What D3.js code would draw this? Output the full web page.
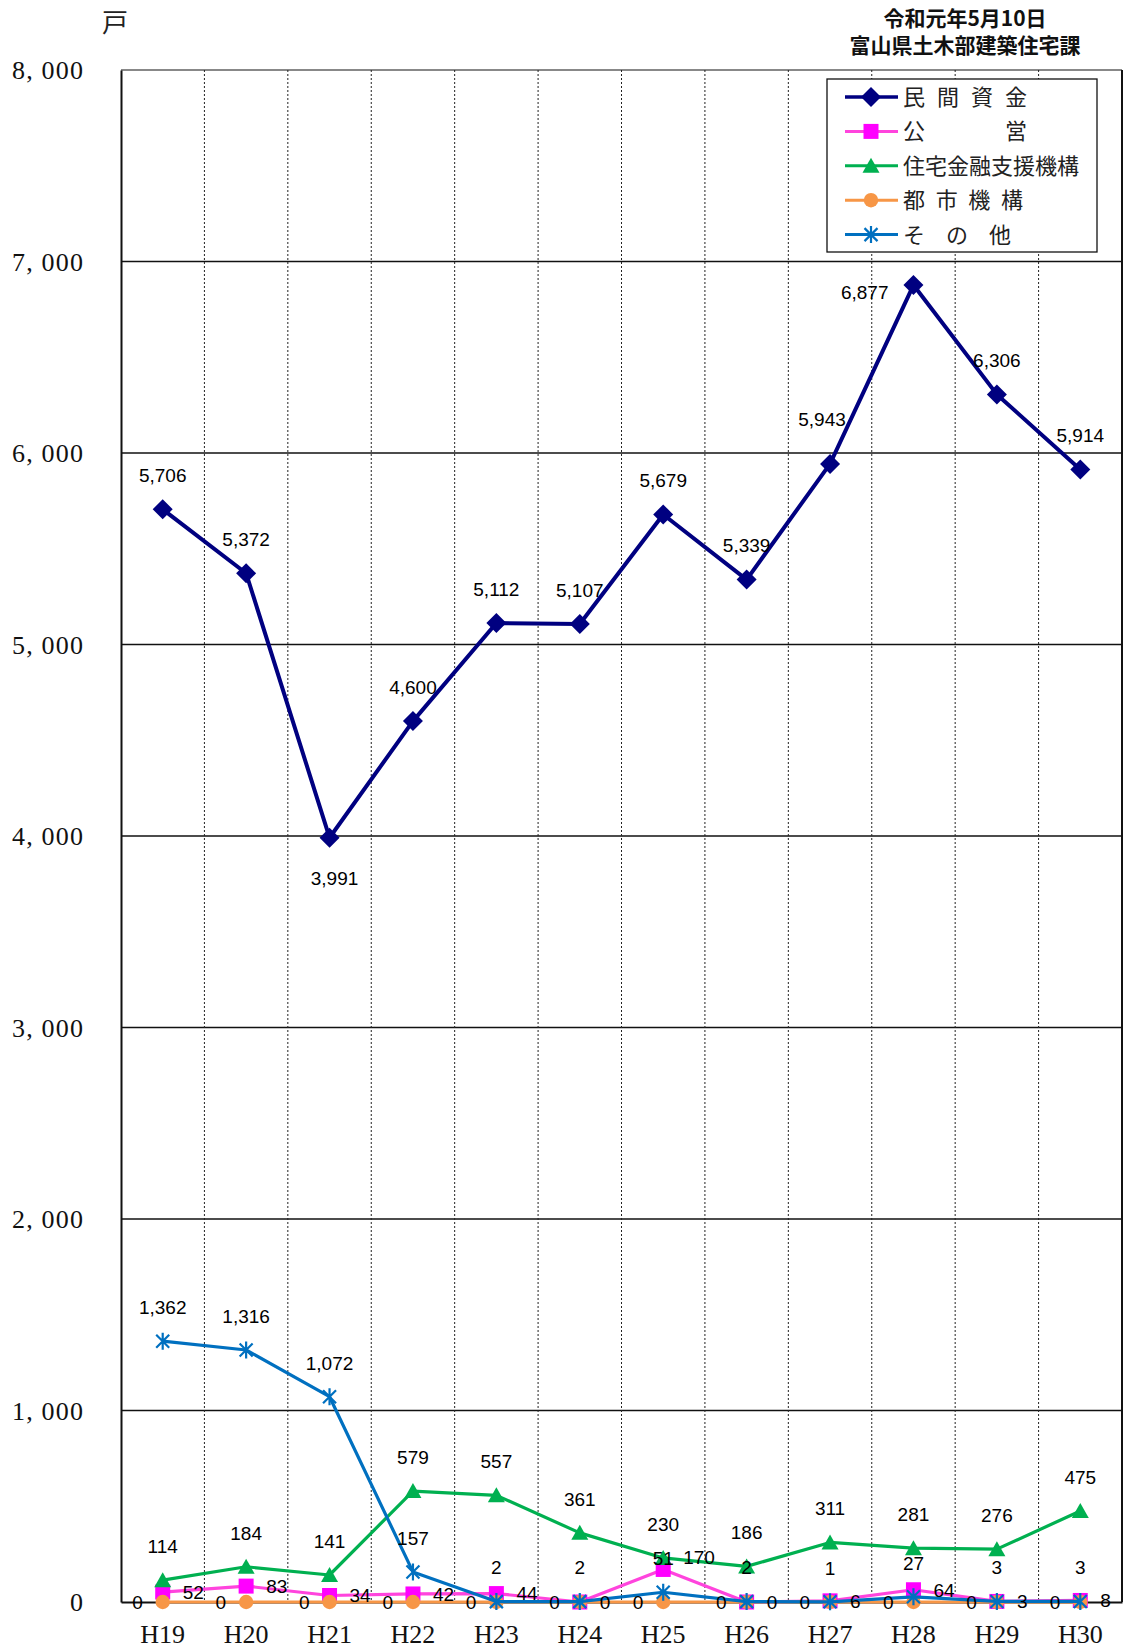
<!DOCTYPE html>
<html>
<head>
<meta charset="utf-8">
<script src="https://cdn.jsdelivr.net/npm/d3@7"></script>
<style>
html,body{margin:0;padding:0;background:#fff;}
svg{display:block;}
</style>
</head>
<body>
<svg id="chart" width="1123" height="1650"></svg>
<script>
// ---- data ----
const categories = ["H19","H20","H21","H22","H23","H24","H25","H26","H27","H28","H29","H30"];
const minkan  = [5706,5372,3991,4600,5112,5107,5679,5339,5943,6877,6306,5914];
const koei    = [52,83,34,42,44,0,170,0,6,64,3,8];
const jukin   = [114,184,141,579,557,361,230,186,311,281,276,475];
const toshi   = [0,0,0,0,0,0,0,0,0,0,0,0];
const sonota  = [1362,1316,1072,157,2,2,51,2,1,27,3,3];
const yTicks  = [0,1000,2000,3000,4000,5000,6000,7000,8000];
const yTickLabels = ["0","1, 000","2, 000","3, 000","4, 000","5, 000","6, 000","7, 000","8, 000"];
const seriesNames = ["民間資金","公営","住宅金融支援機構","都市機構","その他"];

// ---- layout ----
const svg = d3.select("#chart");
const L = 121, R = 1122, T = 70, B = 1602;
const x = d3.scaleBand().domain(categories).range([L, R]).padding(0);
const cx = c => x(c) + x.bandwidth()/2;
const y = d3.scaleLinear().domain([0, 8000]).range([B, T]);

// horizontal gridlines
svg.append("g").selectAll("line").data(yTicks.filter(v => v > 0 && v < 8000)).join("line")
  .attr("x1", L).attr("x2", R).attr("y1", d => y(d)).attr("y2", d => y(d))
  .attr("stroke", "#111").attr("stroke-width", 1.3);
// top line
svg.append("line").attr("x1", L).attr("x2", R).attr("y1", y(8000)).attr("y2", y(8000))
  .attr("stroke", "#888").attr("stroke-width", 2.2);
// vertical dotted lines
svg.append("g").selectAll("line").data(categories.slice(1)).join("line")
  .attr("x1", d => x(d)).attr("x2", d => x(d)).attr("y1", T).attr("y2", B)
  .attr("stroke", "#222").attr("stroke-width", 1).attr("stroke-dasharray", "2,2");
// right border
svg.append("line").attr("x1", R).attr("x2", R).attr("y1", T).attr("y2", B)
  .attr("stroke", "#111").attr("stroke-width", 2);

// axes
const yAxis = d3.axisLeft(y).tickValues(yTicks).tickSize(0).tickFormat((d,i) => yTickLabels[i]);
const gy = svg.append("g").attr("transform", `translate(${L},0)`).call(yAxis);
gy.select(".domain").attr("stroke", "#111").attr("stroke-width", 2);
gy.selectAll("text").attr("x", -38).attr("dy", "0.34em")
  .attr("font-family", "'Liberation Serif','DejaVu Serif',serif").attr("font-size", 26).attr("fill", "#111")
  .each(function(d){ if (d > 0) d3.select(this).attr("textLength", 71).attr("lengthAdjust", "spacing"); });

const xAxis = d3.axisBottom(x).tickSize(0);
const gx = svg.append("g").attr("transform", `translate(0,${B})`).call(xAxis);
gx.select(".domain").attr("stroke", "#111").attr("stroke-width", 2);
gx.selectAll("text").attr("y", 41).attr("dy", 0)
  .attr("font-family", "'Liberation Serif','DejaVu Serif',serif").attr("font-size", 26).attr("fill", "#111");

// ---- series ----
const symDiamond = "M0,-10L10,0L0,10L-10,0Z";
const symSquare = "M-7.5,-7.5H7.5V7.5H-7.5Z";
const symTriangle = "M0,-8L8.5,7L-8.5,7Z";
const symStar = "M-6.5,-6.5L6.5,6.5M-6.5,6.5L6.5,-6.5M0,-8.5L0,8.5";

const series = [
  {name: seriesNames[0], values: minkan, line: "#000080", fill: "#000080", lw: 4, sym: symDiamond, pos: "above"},
  {name: seriesNames[1], values: koei,   line: "#FF44DD", fill: "#FF00FF", lw: 3.2, sym: symSquare, pos: "right"},
  {name: seriesNames[2], values: jukin,  line: "#00B050", fill: "#00B050", lw: 3.2, sym: symTriangle, pos: "above"},
  {name: seriesNames[3], values: toshi,  line: "#F79646", fill: "#F79646", lw: 3.2, sym: "circle", pos: "left"},
  {name: seriesNames[4], values: sonota, line: "#0070C0", fill: "none", lw: 3.2, sym: symStar, pos: "above", stroke: "#0070C0"}
];

const lineGen = d3.line().x((d,i) => cx(categories[i])).y(d => y(d));

function drawMarker(g, s, px, py) {
  if (s.sym === "circle") {
    g.append("circle").attr("cx", px).attr("cy", py).attr("r", 7.2).attr("fill", s.fill);
  } else if (s.stroke) {
    g.append("path").attr("d", s.sym).attr("transform", `translate(${px},${py})`)
      .attr("fill", "none").attr("stroke", s.stroke).attr("stroke-width", 2.2);
  } else {
    g.append("path").attr("d", s.sym).attr("transform", `translate(${px},${py})`).attr("fill", s.fill);
  }
}

const fmt = d3.format(",");
const labelFont = "'Liberation Sans',Arial,sans-serif";

series.forEach(s => {
  const g = svg.append("g");
  g.append("path").datum(s.values).attr("d", lineGen)
    .attr("fill", "none").attr("stroke", s.line).attr("stroke-width", s.lw).attr("stroke-linejoin", "round");
  s.values.forEach((v, i) => drawMarker(g, s, cx(categories[i]), y(v)));
});

// labels on top
series.forEach((s, si) => {
  const g = svg.append("g").attr("font-family", labelFont).attr("font-size", 19).attr("fill", "#000");
  s.values.forEach((v, i) => {
    const px = cx(categories[i]), py = y(v);
    let tx = px, ty = py - 34, anchor = "middle";
    if (s.pos === "right") { tx = px + 20; ty = py; anchor = "start"; }
    if (s.pos === "left")  { tx = px - 20; ty = py; anchor = "end"; }
    // individual placements as in the original sheet
    if (si === 0 && categories[i] === "H21") { tx = px + 5; ty = py + 40; }
    if (si === 0 && categories[i] === "H27") { tx = px - 8; ty = py - 45; }
    if (si === 0 && categories[i] === "H28") { tx = px - 25; ty = py + 7; anchor = "end"; }
    if (si === 1 && categories[i] === "H25") { ty = py - 12; }
    g.append("text").attr("x", tx).attr("y", ty).attr("dy", "0.36em")
      .attr("text-anchor", anchor).text(fmt(v));
  });
});

// ---- legend ----
const lg = svg.append("g");
lg.append("rect").attr("x", 827).attr("y", 79).attr("width", 270).attr("height", 173)
  .attr("fill", "#fff").attr("stroke", "#111").attr("stroke-width", 1.3);
const legendSpread = [124, 124, null, 120, 108];
series.forEach((s, i) => {
  const ly = 97 + i * 34.4;
  lg.append("line").attr("x1", 845).attr("x2", 898).attr("y1", ly).attr("y2", ly)
    .attr("stroke", s.line).attr("stroke-width", s.lw === 4 ? 3.5 : 3);
  const ms = {...s};
  drawMarker(lg, ms, 871, ly);
  const t = lg.append("text").attr("x", 903).attr("y", ly).attr("dy", "0.36em")
    .attr("font-family", "'Noto Sans CJK JP',sans-serif").attr("font-size", 22).attr("fill", "#222")
    .text(s.name);
  if (legendSpread[i]) t.attr("textLength", legendSpread[i]).attr("lengthAdjust", "spacing");
});

// ---- header texts ----
svg.append("text").attr("x", 102).attr("y", 32).attr("font-family", "'Noto Sans CJK JP',sans-serif")
  .attr("font-size", 26).attr("fill", "#222").text("戸");
svg.append("text").attr("x", 965).attr("y", 26).attr("text-anchor", "middle")
  .attr("font-family", "'Noto Sans CJK JP',sans-serif").attr("font-weight", "bold").attr("font-size", 21).attr("fill", "#111")
  .text("令和元年5月10日");
svg.append("text").attr("x", 965).attr("y", 53).attr("text-anchor", "middle")
  .attr("font-family", "'Noto Sans CJK JP',sans-serif").attr("font-weight", "bold").attr("font-size", 21).attr("fill", "#111")
  .text("富山県土木部建築住宅課");
</script>
</body>
</html>
